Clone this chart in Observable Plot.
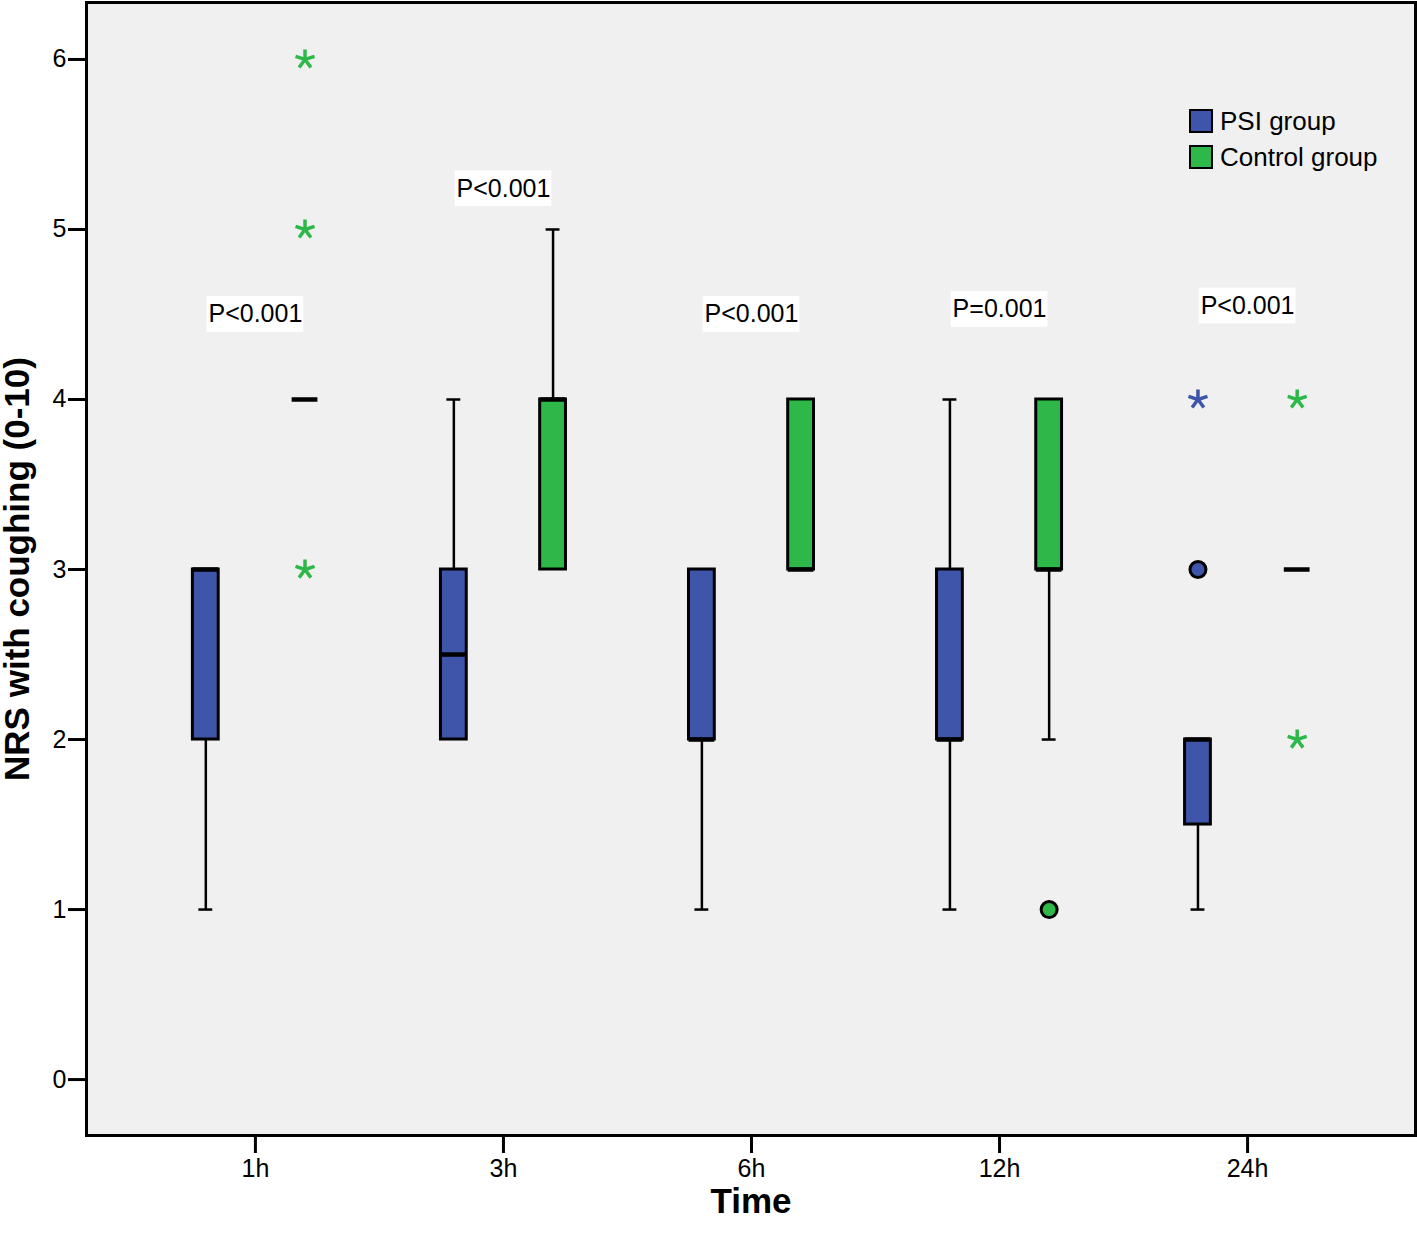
<!DOCTYPE html>
<html><head><meta charset="utf-8">
<script src="https://cdn.jsdelivr.net/npm/d3@7"></script>
<script src="https://cdn.jsdelivr.net/npm/@observablehq/plot@0.6"></script>
<style>
body{margin:0;background:#fff;font-family:"Liberation Sans",Arial,sans-serif;}
#wrap{position:relative;width:1417px;height:1242px;}
.legend{position:absolute;left:1189px;top:103px;font-size:26px;line-height:36px;color:#000;}
.legend .row{display:flex;align-items:center;}
.legend .sw{width:20px;height:20px;border:2.5px solid #000;margin-right:7px;}
</style>
</head><body>
<div id="wrap"><div id="chart"></div>
<div class="legend">
  <div class="row"><span class="sw" style="background:#3f55a9"></span>PSI group</div>
  <div class="row"><span class="sw" style="background:#2eb84a"></span>Control group</div>
</div></div>
<script>
const times = ["1h","3h","6h","12h","24h"];
const groups = ["PSI group","Control group"];
const colors = ["#3f55a9","#2eb84a"];
const yTicks = [0,1,2,3,4,5,6];
// PSI group box statistics
const psiLo  = [1, 2,   1, 1, 1];
const psiQ1  = [2, 2,   2, 2, 1.5];
const psiMed = [3, 2.5, 2, 2, 2];
const psiQ3  = [3, 3,   3, 3, 2];
const psiHi  = [3, 4,   3, 4, 2];
// Control group box statistics
const ctlLo  = [4, 3, 3, 2, 3];
const ctlQ1  = [4, 3, 3, 3, 3];
const ctlMed = [4, 4, 3, 3, 3];
const ctlQ3  = [4, 4, 4, 4, 3];
const ctlHi  = [4, 5, 4, 4, 3];
// outliers: [time, value, kind]
const psiOut = [["24h",3,"circle"],["24h",4,"star"]];
const ctlOut = [["1h",6,"star"],["1h",5,"star"],["1h",3,"star"],["12h",1,"circle"],["24h",4,"star"],["24h",2,"star"]];
// P-value annotations
const pText = ["P<0.001","P<0.001","P<0.001","P=0.001","P<0.001"];
const pY    = [4.5, 5.24, 4.5, 4.53, 4.55];

const OFF = 0.2, HW = 0.052, CAP = 0.028;
const boxes = [];
times.forEach((t,i)=>{
  boxes.push({g:0,x:i-OFF,lo:psiLo[i],q1:psiQ1[i],med:psiMed[i],q3:psiQ3[i],hi:psiHi[i]});
  boxes.push({g:1,x:i+OFF,lo:ctlLo[i],q1:ctlQ1[i],med:ctlMed[i],q3:ctlQ3[i],hi:ctlHi[i]});
});
const outs = [
  ...psiOut.map(([t,v,k])=>({g:0,x:times.indexOf(t)-OFF,v,k})),
  ...ctlOut.map(([t,v,k])=>({g:1,x:times.indexOf(t)+OFF,v,k}))
];
const pData = times.map((t,i)=>({x:i,y:pY[i],text:pText[i]}));

const star5 = {draw(ctx,size){const r=Math.sqrt(size/Math.PI);for(let a=0;a<5;a++){const th=-Math.PI/2+a*2*Math.PI/5;ctx.moveTo(0,0);ctx.lineTo(r*Math.cos(th),r*Math.sin(th));}}};

const lowW = boxes.filter(d=>d.lo<d.q1), hiW = boxes.filter(d=>d.hi>d.q3);
const plot = Plot.plot({
  width:1417, height:1242,
  marginLeft:86, marginRight:2, marginTop:2, marginBottom:107,
  style:{fontFamily:'"Liberation Sans",Arial,sans-serif', fontSize:"25px", background:"#fff", overflow:"visible"},
  x:{domain:[-0.681,4.677]},
  y:{domain:[-0.329,6.335]},
  marks:[
    Plot.frame({fill:"#f0f0f0"}),
    Plot.ruleX(lowW,{x:"x",y1:"lo",y2:"q1",stroke:"#000",strokeWidth:2.5}),
    Plot.ruleX(hiW,{x:"x",y1:"q3",y2:"hi",stroke:"#000",strokeWidth:2.5}),
    Plot.ruleY(lowW,{y:"lo",x1:d=>d.x-CAP,x2:d=>d.x+CAP,stroke:"#000",strokeWidth:2.5}),
    Plot.ruleY(hiW,{y:"hi",x1:d=>d.x-CAP,x2:d=>d.x+CAP,stroke:"#000",strokeWidth:2.5}),
    Plot.rect(boxes.filter(d=>d.q3>d.q1),{x1:d=>d.x-HW,x2:d=>d.x+HW,y1:"q1",y2:"q3",fill:d=>colors[d.g],stroke:"#000",strokeWidth:3}),
    Plot.ruleY(boxes,{y:"med",x1:d=>d.x-HW,x2:d=>d.x+HW,stroke:"#000",strokeWidth:4.5}),
    Plot.dot(outs.filter(d=>d.k==="circle"),{x:"x",y:"v",r:8,fill:d=>colors[d.g],stroke:"#000",strokeWidth:3}),
    Plot.dot(outs.filter(d=>d.k==="star"),{x:"x",y:"v",r:10,symbol:star5,stroke:d=>colors[d.g],strokeWidth:3.5,fill:"none"}),
    Plot.rect(pData,{x1:d=>d.x-0.195,x2:d=>d.x+0.195,y1:d=>d.y-0.105,y2:d=>d.y+0.105,fill:"#fff"}),
    Plot.text(pData,{x:"x",y:"y",text:"text",fontSize:25,fill:"#000"}),
    Plot.axisY({ticks:yTicks,tickFormat:d=>String(d),tickSize:18,tickPadding:2,strokeWidth:3,fontSize:25,label:"NRS with coughing (0-10)",labelAnchor:"center",labelArrow:"none",labelOffset:82}),
    Plot.axisX({ticks:[0,1,2,3,4],tickFormat:i=>times[i],tickSize:18,tickPadding:6,strokeWidth:3,fontSize:25,label:"Time",labelAnchor:"center",labelArrow:"none",labelOffset:77}),
    Plot.frame({stroke:"#000",strokeWidth:3})
  ]
});
// bold axis titles
plot.querySelectorAll("g[aria-label='y-axis label'] text, g[aria-label='x-axis label'] text").forEach(t=>{t.setAttribute("font-weight","bold");t.setAttribute("font-size","35");});
document.getElementById("chart").appendChild(plot);
</script>
</body></html>
